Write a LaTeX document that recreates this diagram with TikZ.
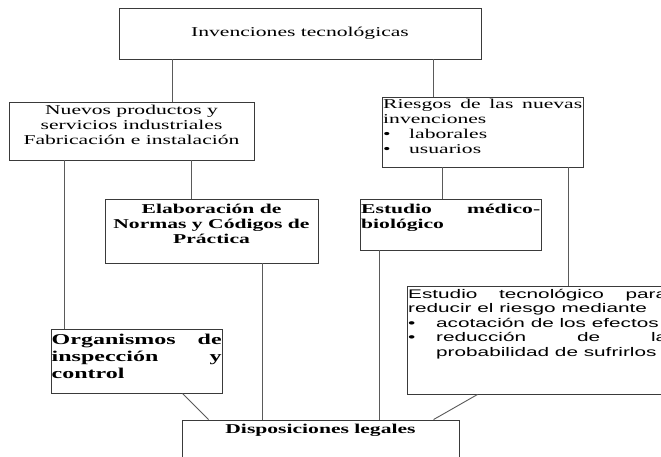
\documentclass[tikz,border=0pt]{standalone}
\usepackage{fontspec}
\setmainfont{Liberation Serif}[FakeStretch=1.6]
\newfontfamily\arialf{Liberation Sans}[FakeStretch=1.66]
\usetikzlibrary{calc}
\definecolor{boxc}{HTML}{3A3A3A}
\definecolor{linec}{HTML}{5A5A5A}
\begin{document}
\begin{tikzpicture}[x=1pt,y=-1pt,
  box/.style={draw=boxc, line width=0.9pt, inner sep=0pt, fill=white},
  conn/.style={draw=linec, line width=0.9pt},
  txt/.style={inner sep=0pt, font=\fontsize{13.5}{15}\selectfont},
  btxt/.style={inner sep=0pt, font=\fontsize{13.5}{15}\selectfont\bfseries},
  obtxt/.style={inner sep=0pt, font=\fontsize{15}{17}\selectfont\bfseries},
  stxt/.style={inner sep=0pt, font=\arialf\fontsize{12.5}{14.4}\selectfont},
]
\useasboundingbox (0,0) rectangle (661,457);
\clip (0,0) rectangle (661,457);
\fill[white] (0,0) rectangle (661,457);

% boxes
\node[box, minimum width=362pt, minimum height=51pt] (top) at (300,33.5) {};
\node[box, minimum width=245pt, minimum height=58pt] (nuevos) at (131.5,131) {};
\node[box, minimum width=201pt, minimum height=70pt] (riesgos) at (482.5,132) {};
\node[box, minimum width=213pt, minimum height=64pt] (elab) at (211.5,231) {};
\node[box, minimum width=181pt, minimum height=51pt] (medico) at (450.5,224.5) {};
\node[box, minimum width=171pt, minimum height=64pt] (org) at (136.5,361) {};
\node[box, minimum width=283pt, minimum height=108pt] (tec) at (548.5,340) {};
\node[box, minimum width=277pt, minimum height=60pt] (disp) at (320.5,450) {};

% connectors
\draw[conn] ([xshift=54pt]top.south west) -- ([xshift=164pt]nuevos.north west);
\draw[conn] ([xshift=315pt]top.south west) -- ([xshift=52pt]riesgos.north west);
\draw[conn] ([xshift=56pt]nuevos.south west) -- ([xshift=14pt]org.north west);
\draw[conn] ([xshift=183pt]nuevos.south west) -- ([xshift=87pt]elab.north west);
\draw[conn] ([xshift=61pt]riesgos.south west) -- ([xshift=83pt]medico.north west);
\draw[conn] ([xshift=187pt]riesgos.south west) -- ([xshift=162pt]tec.north west);
\draw[conn] ([xshift=132pt]org.south west) -- ([xshift=27pt]disp.north west);
\draw[conn] ([xshift=158pt]elab.south west) -- ([xshift=81pt]disp.north west);
\draw[conn] ([xshift=20pt]medico.south west) -- ([xshift=198pt]disp.north west);
\draw[conn] ([xshift=71pt]tec.south west) -- ([xshift=252pt]disp.north west);

% texts
\node[txt, anchor=north] (ttop) at (300,25.5) {\strut Invenciones tecnológicas};
\node[txt, anchor=north, align=center] (tnuevos) at (131.5,103.5)
  {\strut Nuevos productos y\\ servicios industriales\\ Fabricación e instalación};
\node[txt, anchor=north west, align=left] (triesgos) at (383,97.5)
  {\strut\makebox[199pt][s]{Riesgos de las nuevas}\\ invenciones\\
   \makebox[26pt][l]{•}laborales\\ \makebox[26pt][l]{•}usuarios};
\node[btxt, anchor=north, align=center] (telab) at (211.5,202.5)
  {\strut Elaboración de\\ Normas y Códigos de\\ Práctica};
\node[btxt, anchor=north west, align=left] (tmedico) at (361,202.5)
  {\strut\makebox[179pt][s]{Estudio médico-}\\ biológico};
\node[obtxt, anchor=north west, align=left] (torg) at (51.5,332.1)
  {\strut\makebox[170pt][s]{Organismos de}\\ \makebox[170pt][s]{inspección y}\\ control};
\node[stxt, anchor=north west, align=left] (ttec) at (408,288.2)
  {\strut\makebox[259pt][s]{Estudio tecnológico para}\\ reducir el riesgo mediante\\
   \makebox[28pt][l]{•}acotación de los efectos\\
   \makebox[28pt][l]{•}\makebox[231pt][s]{reducción de la}\\
   \hspace*{28pt}probabilidad de sufrirlos};
\node[btxt, anchor=north] (tdisp) at (320.5,422.5) {\strut Disposiciones legales};
\end{tikzpicture}
\end{document}
